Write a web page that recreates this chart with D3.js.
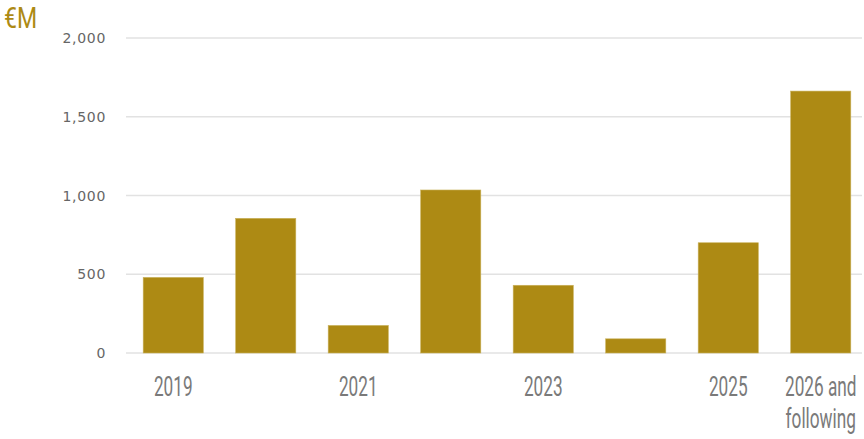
<!DOCTYPE html>
<html><head><meta charset="utf-8">
<script src="https://cdn.jsdelivr.net/npm/d3@7"></script>
<style>body{margin:0;background:#fff}</style>
</head><body>
<svg id="c" width="864" height="439"></svg>
<script>
const categories = ["2019","2020","2021","2022","2023","2024","2025","2026 and following"];
const values = [480, 855, 175, 1035, 430, 90, 700, 1663];
const shownLabels = ["2019","2021","2023","2025","2026 and following"];
const yTicks = [0, 500, 1000, 1500, 2000];
const unitLabel = "€M";

const svg = d3.select("#c");
const x = d3.scaleBand().domain(categories).range([127, 867]).paddingInner(0.35).paddingOuter(0.175);
const y = d3.scaleLinear().domain([0, 2000]).range([353, 38]);

// gridlines
svg.append("g").selectAll("line").data(yTicks).join("line")
  .attr("x1", 126).attr("x2", 862)
  .attr("y1", d => y(d)).attr("y2", d => y(d))
  .attr("stroke", "#e2e2e2").attr("stroke-width", 1.5);

// y labels
const fmt = d3.format(",");
svg.append("g").selectAll("text").data(yTicks).join("text")
  .attr("x", 106).attr("y", d => y(d) + 5)
  .attr("text-anchor", "end")
  .attr("font-family", "DejaVu Sans, sans-serif")
  .attr("font-size", 14).attr("letter-spacing", 0.7)
  .attr("fill", "#666")
  .text(d => fmt(d));

// bars
svg.append("g").selectAll("rect").data(categories).join("rect")
  .attr("x", d => x(d)).attr("width", x.bandwidth())
  .attr("y", (d,i) => y(values[i])).attr("height", (d,i) => y(0) - y(values[i]))
  .attr("fill", "#ad8a14").attr("stroke", "#c9b15a").attr("stroke-width", 0.6);

// x labels
const xl = svg.append("g");
shownLabels.forEach(lab => {
  const cx = x(lab) + x.bandwidth()/2;
  const lines = lab === "2026 and following" ? ["2026 and","following"] : [lab];
  lines.forEach((t, j) => {
    xl.append("text")
      .attr("transform", `translate(${cx},${396 + j*32}) scale(0.84,1.32)`)
      .attr("text-anchor", "middle")
      .attr("font-family", "Roboto, sans-serif")
      .attr("font-size", 20.5)
      .attr("fill", "#7a7a7a")
      .text(t);
  });
});

// unit label
svg.append("text")
  .attr("transform", "translate(4,28) scale(1.05,1.33)")
  .attr("font-family", "Roboto, sans-serif")
  .attr("font-size", 22)
  .attr("fill", "#ad8a14")
  .text(unitLabel);
</script>
</body></html>
